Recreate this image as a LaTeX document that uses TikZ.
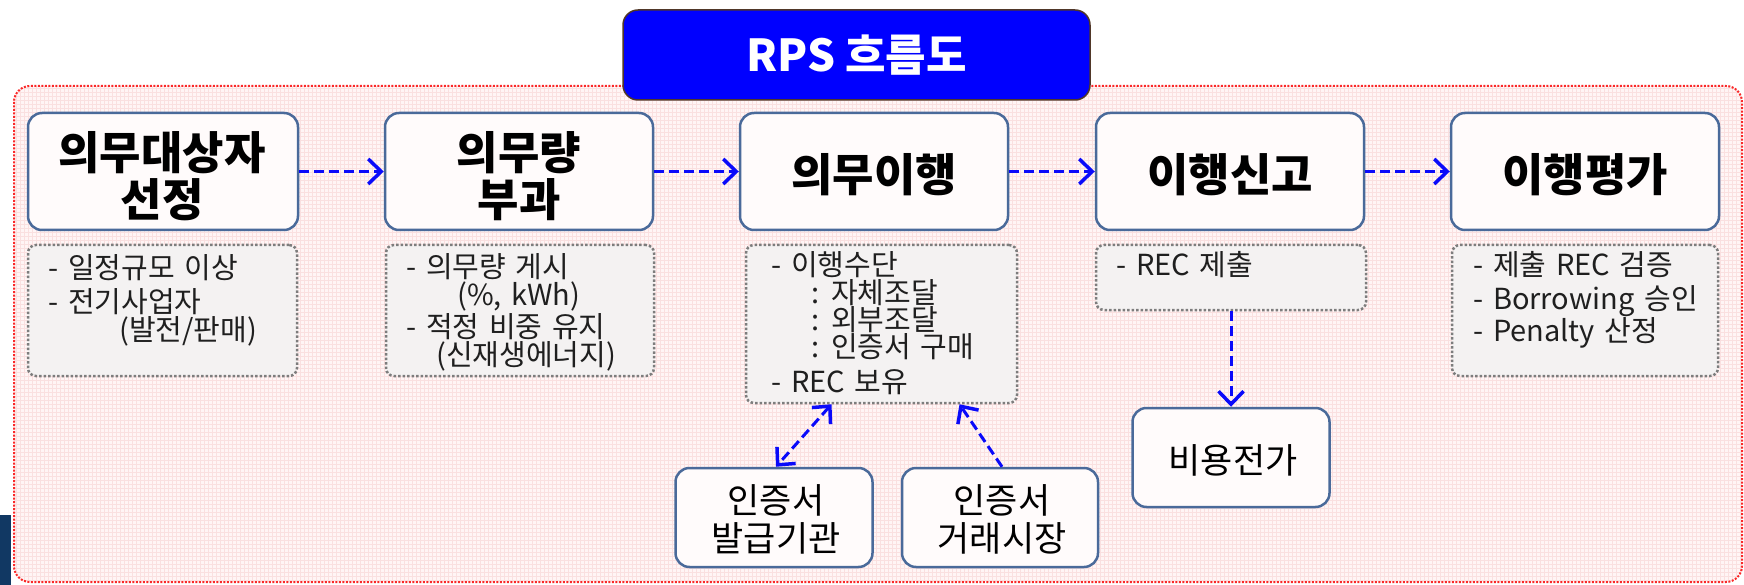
\documentclass[tikz,border=0pt]{standalone}
\usepackage{fontspec}
\setmainfont{Noto Sans CJK KR}
\newfontfamily\notefont[WordSpace=1.5]{Noto Sans CJK KR}
\usetikzlibrary{arrows.meta,calc}
\definecolor{boxblue}{RGB}{74,106,154}
\definecolor{titleblue}{RGB}{0,0,255}
\definecolor{flowblue}{RGB}{10,10,250}
\definecolor{bgpink}{RGB}{255,245,245}
\definecolor{gridpink}{RGB}{250,224,224}
\definecolor{outerred}{RGB}{250,40,40}
\definecolor{notegray}{RGB}{125,125,125}
\definecolor{notefill}{RGB}{244,242,242}
\definecolor{mainfill}{RGB}{255,251,251}
\definecolor{navy}{RGB}{17,56,99}
\definecolor{titleedge}{RGB}{80,55,40}
\begin{document}
\begin{tikzpicture}[x=1pt,y=-1pt,
  mainbox/.style={draw=boxblue, line width=2.5pt, rounded corners=14pt, fill=mainfill,
    inner sep=0pt, minimum width=268pt, minimum height=117pt},
  bigtext/.style={anchor=base, inner sep=0pt, font=\fontsize{45}{47}\selectfont\bfseries},
  notebox/.style={draw=notegray, line width=2.5pt, dash pattern=on 2.5pt off 2pt,
    rounded corners=8pt, fill=notefill, inner sep=0pt},
  subbox/.style={draw=boxblue, line width=2.5pt, rounded corners=14pt, fill=mainfill,
    inner sep=0pt, minimum width=197pt, minimum height=99pt},
  subtext/.style={anchor=base, inner sep=0pt, font=\fontsize{35}{38}\selectfont},
  notetext/.style={anchor=base west, inner sep=0pt, text=black!88,
    font=\notefont\fontsize{29}{30}\selectfont},
  tip/.tip={Straight Barb[length=13pt,width=25pt,line width=3.5pt]},
  flow/.style={draw=flowblue, line width=3pt, dash pattern=on 10pt off 5pt, -tip},
  flowboth/.style={draw=flowblue, line width=3pt, dash pattern=on 10pt off 5pt, tip-tip}
]
\useasboundingbox (0,0) rectangle (1744,585);
\fill[white] (0,0) rectangle (1744,585);

% outer background
\begin{scope}
  \clip[rounded corners=16pt] (14,86) rectangle (1742,582);
  \fill[bgpink] (14,86) rectangle (1742,582);
  \draw[gridpink, line width=0.5pt, step=4pt] (14,86) grid (1742,582);
\end{scope}
\draw[outerred, line width=2pt, dash pattern=on 2pt off 1.5pt, rounded corners=16pt]
  (14,86) rectangle (1742,582);

% navy block at bottom left
\fill[navy] (0,515) rectangle (11,585);

% title
\node[draw=titleedge, line width=1.5pt, fill=titleblue, rounded corners=15pt,
  minimum width=467pt, minimum height=90pt, inner sep=0pt] (title) at (856.5,55) {};
\node[anchor=base, inner sep=0pt, text=white, font=\fontsize{44}{46}\selectfont\bfseries]
  (titletext) at (856.5,72) {RPS 흐름도};

% main step boxes
\node[mainbox, minimum width=270pt] (b1) at (163,171.5) {};
\node[mainbox] (b2) at (519,171.5) {};
\node[mainbox] (b3) at (874,171.5) {};
\node[mainbox] (b4) at (1230,171.5) {};
\node[mainbox] (b5) at (1585,171.5) {};

\node[bigtext] (b1t1) at (162,170) {의무대상자};
\node[bigtext] (b1t2) at (162,217) {선정};
\node[bigtext] (b2t1) at (519,170) {의무량};
\node[bigtext] (b2t2) at (519,217) {부과};
\node[bigtext] (b3t) at (874,192) {의무이행};
\node[bigtext] (b4t) at (1230,192) {이행신고};
\node[bigtext] (b5t) at (1585,192) {이행평가};

\draw[flow] (b1) -- (b2);
\draw[flow] (b2) -- (b3);
\draw[flow] (b3) -- (b4);
\draw[flow] (b4) -- (b5);

% note boxes
\node[notebox, minimum width=269pt, minimum height=131pt] (n1) at (162.5,310.5) {};
\node[notebox, minimum width=268pt, minimum height=131pt] (n2) at (520,310.5) {};
\node[notebox, minimum width=271pt, minimum height=158pt] (n3) at (881.5,324) {};
\node[notebox, minimum width=270pt, minimum height=65pt] (n4) at (1231,277.5) {};
\node[notebox, minimum width=266pt, minimum height=131pt] (n5) at (1585,310.5) {};

% note texts
\node[notetext] (n1a) at (48,278) {- 일정규모 이상};
\node[notetext] (n1b) at (48,312) {- 전기사업자};
\node[notetext] (n1c) at (119,340) {(발전/판매)};

\node[notetext] (n2a) at (406,277) {- 의무량 게시};
\node[notetext] (n2b) at (457,305) {(\%, kWh)};
\node[notetext] (n2c) at (406,337) {- 적정 비중 유지};
\node[notetext] (n2d) at (436,365) {(신재생에너지)};

\node[notetext] (n3a) at (771,275) {- 이행수단};
\node[notetext] (n3b) at (811,303) {: 자체조달};
\node[notetext] (n3c) at (811,330) {: 외부조달};
\node[notetext] (n3d) at (811,357) {: 인증서 구매};
\node[notetext] (n3e) at (771,392) {- REC 보유};

\node[notetext] (n4a) at (1116,275) {- REC 제출};

\node[notetext] (n5a) at (1473,276) {- 제출 REC 검증};
\node[notetext] (n5b) at (1473,309) {- Borrowing 승인};
\node[notetext] (n5c) at (1473,341) {- Penalty 산정};

% lower boxes
\node[subbox] (ia) at (774,517.5) {};
\node[subbox, minimum width=196pt] (tm) at (1000,517.5) {};
\node[subbox] (cp) at (1231,457.5) {};

\node[subtext] (iat1) at (776,513) {인증서};
\node[subtext] (iat2) at (776,551) {발급기관};
\node[subtext] (tmt1) at (1002,513) {인증서};
\node[subtext] (tmt2) at (1002,551) {거래시장};
\node[subtext] (cpt) at (1233,473) {비용전가};

\draw[flowboth] ([xshift=-50pt]n3.south) -- ([xshift=2pt]ia.north);
\draw[flow] ([xshift=2pt]tm.north) -- ([xshift=78pt]n3.south);
\draw[flow] (n4.south) -- (cp.north);
\end{tikzpicture}
\end{document}
